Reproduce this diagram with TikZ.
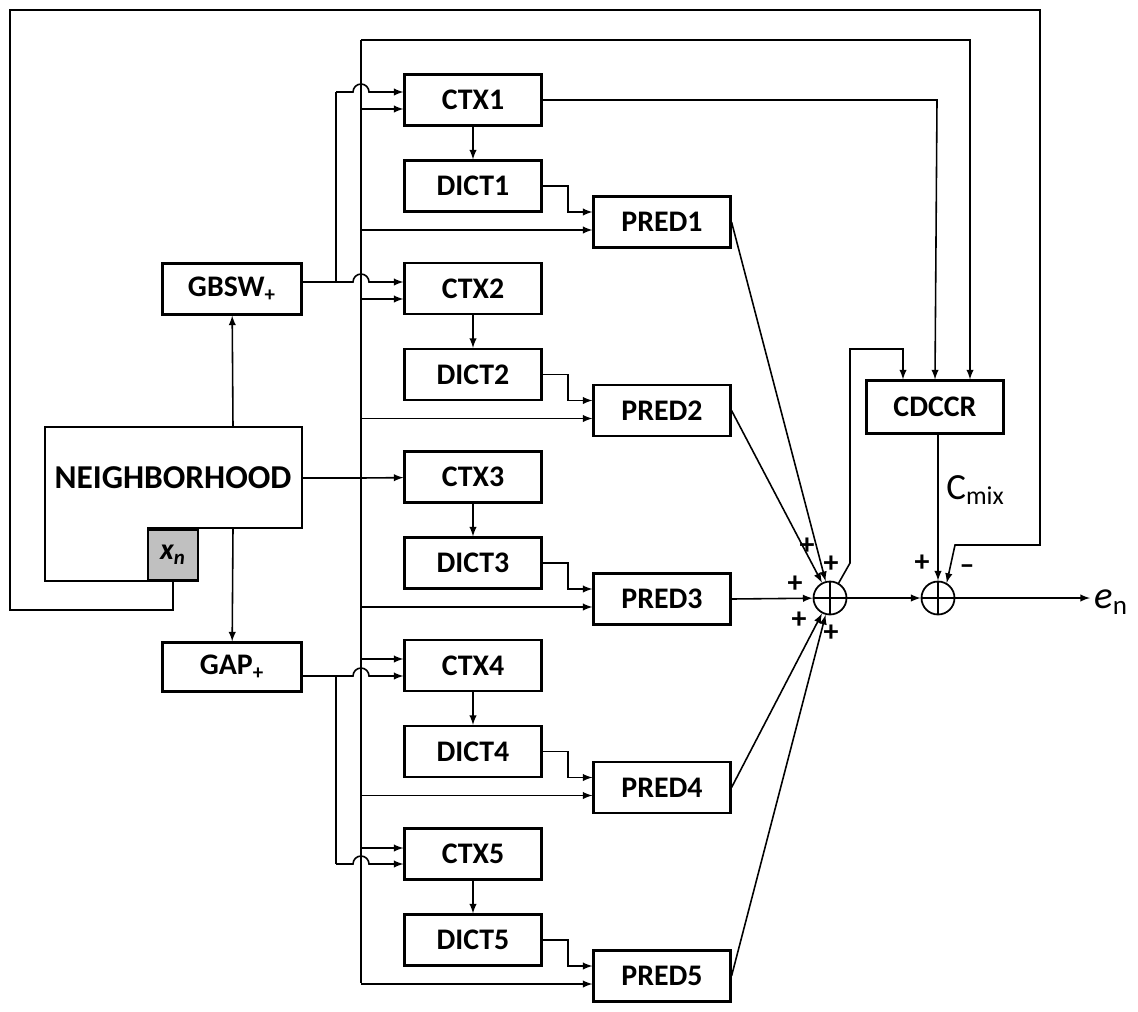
\documentclass[tikz,border=0pt]{standalone}
\usepackage{fontspec}
\setmainfont{Carlito}
\usetikzlibrary{positioning}
\definecolor{xgray}{RGB}{192,192,192}

\begin{document}
\begin{tikzpicture}[x=0.02cm,y=-0.02cm,inner sep=0pt]
\tikzstyle{blk}=[rectangle, draw=black, line width=1.2pt, minimum width=2.74cm, minimum height=1.02cm, font=\fontsize{17}{20}\selectfont\bfseries]
\tikzstyle{sum}=[circle, draw=black, line width=1pt, minimum size=0.66cm,
  path picture={\draw[line width=0.8pt] (path picture bounding box.north) -- (path picture bounding box.south) (path picture bounding box.west) -- (path picture bounding box.east);}]
\tikzstyle{wire}=[line width=0.9pt]
\tikzstyle{connect}=[-latex, line width=0.9pt]
\tikzstyle{sign}=[font=\fontsize{17}{20}\selectfont\bfseries]
\useasboundingbox (0,0) rectangle (1138,1011);
% neighborhood and x_n
\draw[line width=1.2pt] (45,427) -- (302,427) -- (302,528) -- (148,528) -- (148,581) -- (45,581) -- cycle;
\node[font=\fontsize{19}{22}\selectfont\bfseries] (nbh) at (173,478) {NEIGHBORHOOD};
\coordinate (nbhe) at (302,478);
\node[rectangle, draw=black, line width=1.2pt, fill=xgray, minimum width=1cm, minimum height=1.02cm, font=\fontsize{17}{20}\selectfont\bfseries\itshape] (xn) at (173,555) {x\textsubscript{n}};
\node[blk, minimum width=2.78cm] (gbsw) at (232,289) {GBSW\textsubscript{+}};
\node[blk, minimum width=2.78cm, minimum height=0.98cm] (gap) at (232,667) {GAP\textsubscript{+}};
\draw[connect] (233,427) -- (gbsw);
\draw[connect] (233,528) -- (gap);
% five branches
\foreach \i in {1,...,5}{
  \pgfmathsetmacro{\c}{100+(\i-1)*188.5}
  \pgfmathsetmacro{\d}{186+(\i-1)*188.5}
  \pgfmathsetmacro{\p}{222+(\i-1)*188.5}
  \node[blk] (ctx\i) at (473,\c) {CTX\i};
  \node[blk] (dict\i) at (473,\d) {DICT\i};
  \node[blk] (pred\i) at (662,\p) {PRED\i};
  \draw[connect] (ctx\i) -- (dict\i);
  \draw[connect] (dict\i.east) -- (568,\d) -- (568,\p-10) -- (pred\i.west |- 0,\p-10);
  \draw[connect] (361,\p+8) -- (pred\i.west |- 0,\p+8);
}
% bus
\draw[wire] (361,40) -- (361,982.5);
\draw[line width=1.6pt] (nbhe) -- (361,478);
\draw[connect] (361,478) -- (ctx3);
% GBSW feeds
\draw[wire] (302,282) -- (336,282) -- (336,92);
\draw[connect] (336,92) -- (353,92) arc[start angle=180,end angle=0,radius=0.16cm] -- (ctx1.west |- 0,92);
\draw[connect] (361,109) -- (ctx1.west |- 0,109);
\draw[connect] (gbsw.east |- 0,282) -- (353,282) arc[start angle=180,end angle=0,radius=0.16cm] -- (ctx2.west |- 0,282);
\draw[connect] (361,299) -- (ctx2.west |- 0,299);
% GAP feeds
\draw[connect] (361,659) -- (ctx4.west |- 0,659);
\draw[connect] (gap.east |- 0,676) -- (353,676) arc[start angle=180,end angle=0,radius=0.16cm] -- (ctx4.west |- 0,676);
\draw[wire] (336,676) -- (336,864);
\draw[connect] (361,848) -- (ctx5.west |- 0,848);
\draw[connect] (336,864) -- (353,864) arc[start angle=180,end angle=0,radius=0.16cm] -- (ctx5.west |- 0,864);
% mixing
\node[sum] (sum1) at (830,598) {};
\node[sum] (sum2) at (938,598) {};
\node[blk, minimum height=1.06cm] (cdccr) at (935,407) {CDCCR};
\foreach \i in {1,...,5}{ \draw[connect] (pred\i.east) -- (sum1); }
\draw[connect] (ctx1.east) -- (937,100) -- (cdccr.north);
\draw[connect] (361,40) -- (970,40) -- (cdccr.north -| 970,0);
\draw[connect] (sum1.60) -- (850,563) -- (850,349) -- (903,349) -- (cdccr.north -| 903,0);
\draw[connect] (sum1) -- (sum2);
\draw[connect] (cdccr.south -| sum2.north) -- (sum2);
\draw[connect] (xn.south) -- (173,610) -- (10,610) -- (10,10) -- (1040,10) -- (1040,545) -- (955,545) -- (sum2.60);
\coordinate (eout) at (1090,598);
\draw[connect] (sum2) -- (eout);
\node[anchor=west, font=\fontsize{22}{24}\selectfont] (en) at (1094,602) {\textit{e}\textsubscript{n}};
\node[anchor=west, font=\fontsize{21}{24}\selectfont] (cmix) at (946,490) {C\textsubscript{mix}};
% signs
\node[sign] (s1) at (807,546) {+};
\node[sign] (s2) at (831,564) {+};
\node[sign] (s3) at (795,584) {+};
\node[sign] (s4) at (799,620) {+};
\node[sign] (s5) at (831,633) {+};
\node[sign] (s6) at (922,563) {+};
\node[sign] (s7) at (967,570) {--};
\end{tikzpicture}
\end{document}
